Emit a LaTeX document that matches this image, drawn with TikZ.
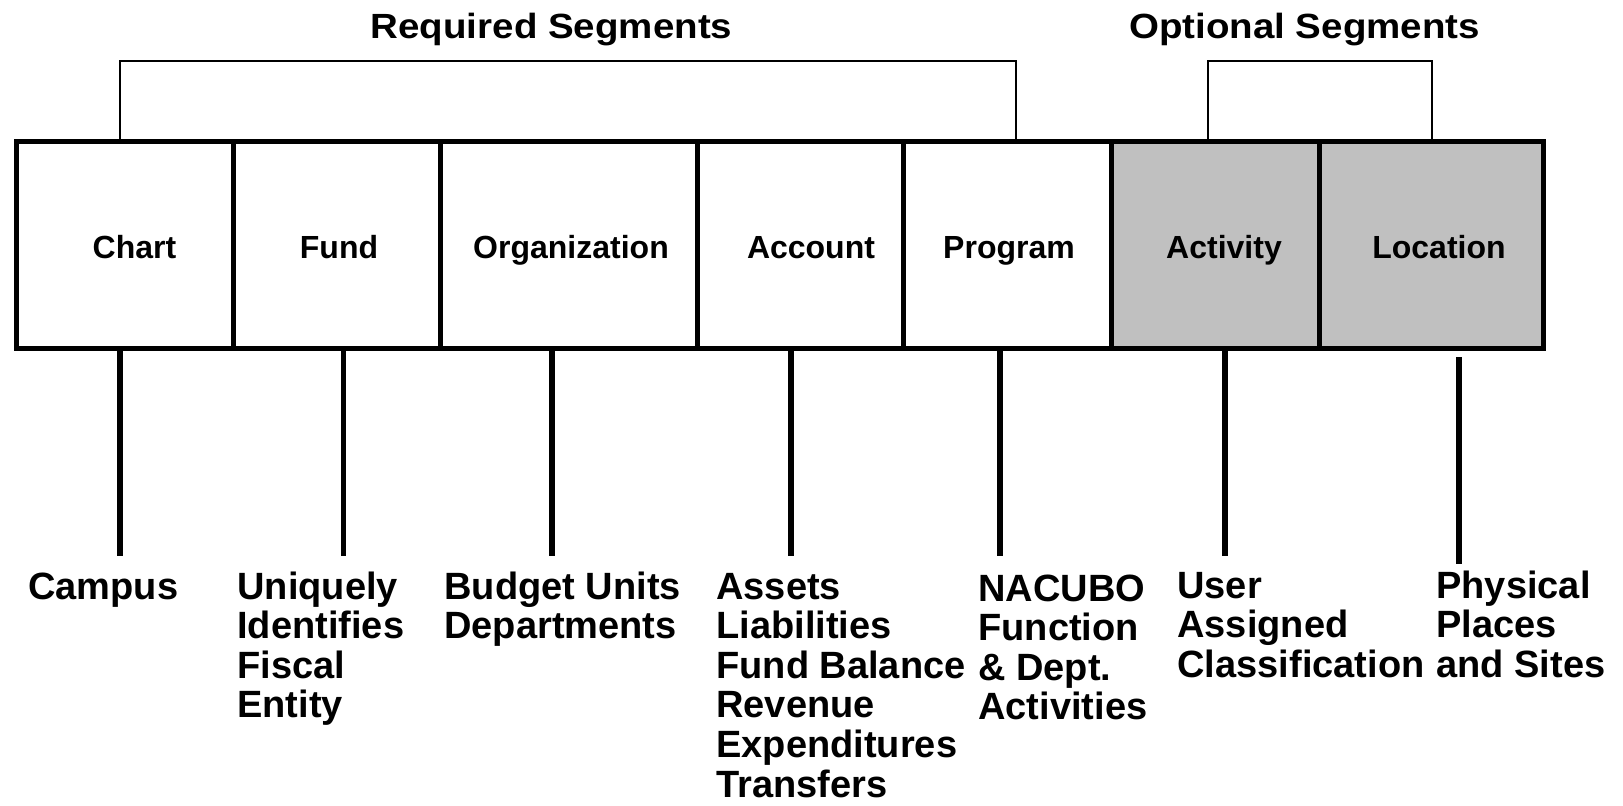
\documentclass[tikz,border=0pt]{standalone}
\usepackage{graphicx}
\usepackage{fontspec}
\setmainfont{Liberation Sans}
\definecolor{optfill}{RGB}{192,192,192}
\begin{document}
\begin{tikzpicture}[x=0.5pt,y=-0.5pt,
  seg/.style={draw,line width=2.5pt,minimum height=103.5pt,inner sep=0pt,anchor=center},
  optseg/.style={seg,fill=optfill},
  seglabel/.style={font=\fontsize{16}{19}\selectfont\bfseries,anchor=base,inner sep=0pt},
  desc/.style={font=\fontsize{19}{19.8}\selectfont\bfseries,anchor=base west,align=left,inner sep=0pt},
  grouptitle/.style={font=\fontsize{17.5}{21}\selectfont\bfseries,anchor=base,inner sep=0pt},
  drop/.style={line width=2.75pt},
  bracket/.style={line width=1pt}]

% canvas
\fill[white] (0,0) rectangle (1623,805);
\useasboundingbox (0,0) rectangle (1623,805);

% segment boxes
\node[seg,minimum width=108.5pt]  (chart)    at (124.5,245.1)  {};
\node[seg,minimum width=103.5pt]  (fund)     at (336.5,245.1)  {};
\node[seg,minimum width=128.5pt]  (org)      at (568.5,245.1)  {};
\node[seg,minimum width=103pt]    (account)  at (800,245.1)    {};
\node[seg,minimum width=104.25pt] (program)  at (1007.25,245.1) {};
\node[optseg,minimum width=104pt]    (activity) at (1215.5,245.1)  {};
\node[optseg,minimum width=111.75pt] (location) at (1431.25,245.1) {};

% segment names
\node[seglabel] (chartname)    at (134.5,258) {Chart};
\node[seglabel] (fundname)     at (339,258)   {Fund};
\node[seglabel] (orgname)      at (571,258)   {Organization};
\node[seglabel] (accountname)  at (811,258)   {Account};
\node[seglabel] (programname)  at (1009,258)  {Program};
\node[seglabel] (activityname) at (1224,258)  {Activity};
\node[seglabel] (locationname) at (1439,258)  {Location};

% group titles
\node[grouptitle] (reqtitle) at (551.5,38)  {\scalebox{1.1}[1]{Required Segments}};
\node[grouptitle] (opttitle) at (1304.5,38) {\scalebox{1.1}[1]{Optional Segments}};

% group brackets
\coordinate (reqL) at (120,61);
\coordinate (reqR) at (1016,61);
\coordinate (optL) at (1208,61);
\coordinate (optR) at (1432,61);
\draw[bracket] (reqL |- chart.north) -- (reqL) -- (reqR) -- (reqR |- program.north);
\draw[bracket] (optL |- activity.north) -- (optL) -- (optR) -- (optR |- location.north);

% descriptions (anchored on the baseline of their last line; 39.6 units per line)
\node[desc] (chartdesc)    at (28,599)     {Campus};
\node[desc] (funddesc)     at (237,717.8)  {Uniquely\\Identifies\\Fiscal\\Entity};
\node[desc] (orgdesc)      at (444,638.6)  {Budget Units\\Departments};
\node[desc] (accountdesc)  at (716,797)    {Assets\\Liabilities\\Fund Balance\\Revenue\\Expenditures\\Transfers};
\node[desc] (programdesc)  at (978,719.8)  {NACUBO\\Function\\\& Dept.\\Activities};
\node[desc] (activitydesc) at (1177,677.2) {User\\Assigned\\Classification};
\node[desc] (locationdesc) at (1436,677.2) {Physical\\Places\\and Sites};

% drop lines from segments to descriptions
\coordinate (chartEnd)    at (120,556);
\coordinate (fundEnd)     at (343.5,556);
\coordinate (orgEnd)      at (552,556);
\coordinate (accountEnd)  at (791,556);
\coordinate (programEnd)  at (1000,556);
\coordinate (activityEnd) at (1225,556);
\coordinate (locationTop) at (1459,357);
\coordinate (locationEnd) at (1459,564);
\draw[drop] (chartEnd |- chart.south) -- (chartEnd);
\draw[drop] (fundEnd |- fund.south) -- (fundEnd);
\draw[drop] (orgEnd |- org.south) -- (orgEnd);
\draw[drop] (accountEnd |- account.south) -- (accountEnd);
\draw[drop] (programEnd |- program.south) -- (programEnd);
\draw[drop] (activityEnd |- activity.south) -- (activityEnd);
\draw[drop] (locationTop) -- (locationEnd);
\end{tikzpicture}
\end{document}
